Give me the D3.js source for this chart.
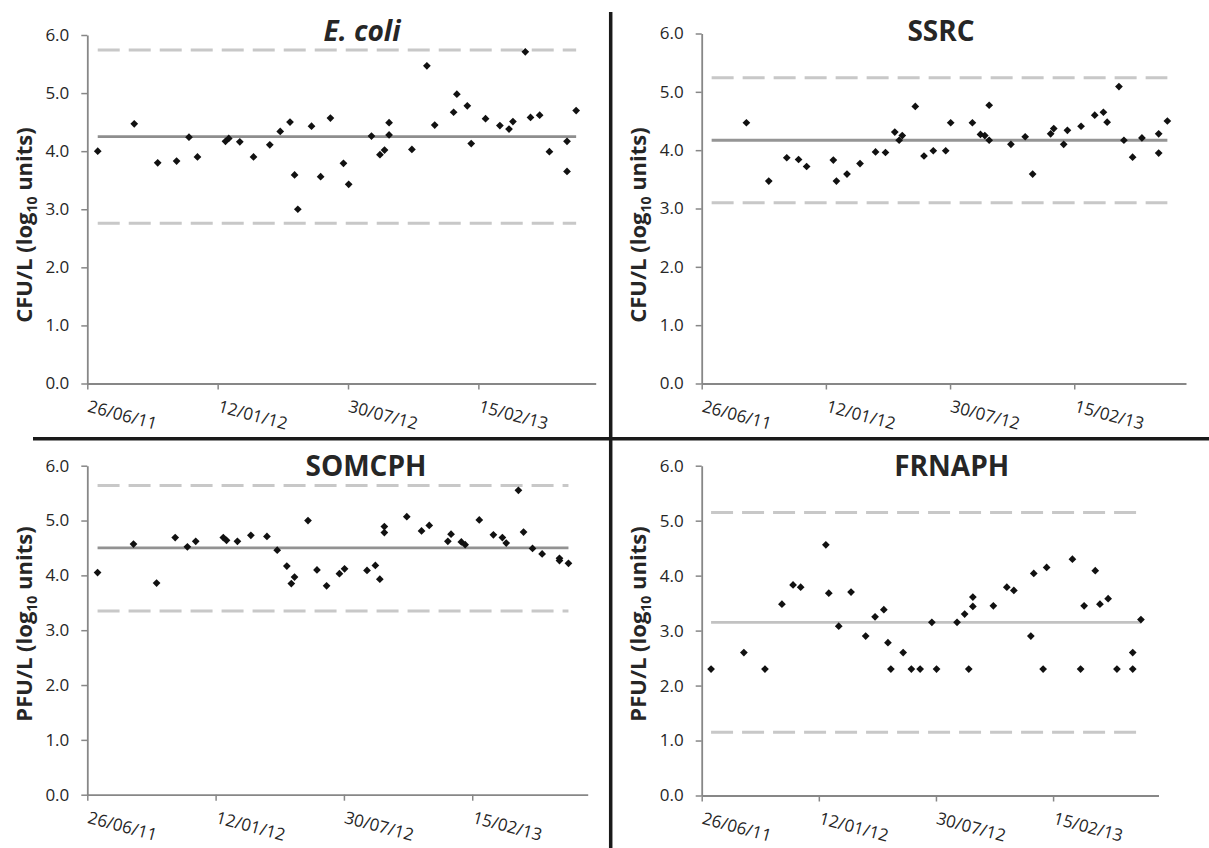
<!DOCTYPE html>
<html>
<head>
<meta charset="utf-8">
<script src="https://cdn.jsdelivr.net/npm/d3@7"></script>
<style>
	body { margin: 0; background: #fff; }
	svg text { font-family: "Open Sans", sans-serif; fill: #262626; }
</style>
</head>
<body>
<svg width="1209" height="848"></svg>
<script>
// sampling dates (shared by the four indicators, some days have two samples)
var sampleDates = ["2011-07-12", "2011-09-06", "2011-10-12", "2011-11-10", "2011-11-29", "2011-12-12",
	"2012-01-24", "2012-01-29", "2012-02-15", "2012-03-07", "2012-04-01", "2012-04-17", "2012-05-02",
	"2012-05-09", "2012-05-14", "2012-06-04", "2012-06-18", "2012-07-03", "2012-07-23", "2012-07-31",
	"2012-09-04", "2012-09-17", "2012-09-24", "2012-10-01", "2012-10-01", "2012-11-05", "2012-11-28",
	"2012-12-10", "2013-01-08", "2013-01-13", "2013-01-29", "2013-02-04", "2013-02-26", "2013-03-20",
	"2013-04-03", "2013-04-09", "2013-04-28", "2013-05-06", "2013-05-20", "2013-06-04", "2013-07-01",
	"2013-07-01", "2013-07-15"];

var ecoli = [4.00, 4.47, 3.80, 3.83, 4.24, 3.90, 4.17, 4.22, 4.16, 3.90, 4.11, 4.34, 4.50, 3.59, 3.00,
	4.43, 3.56, 4.57, 3.79, 3.43, 4.26, 3.94, 4.02, 4.49, 4.28, 4.03, 5.47, 4.45, 4.67, 4.98, 4.78, 4.13,
	4.56, 4.44, 4.38, 4.51, 5.71, 4.58, 4.62, 3.99, 4.17, 3.65, 4.70];
var ssrc = [null, 4.47, 3.47, 3.87, 3.84, 3.72, 3.83, 3.47, 3.59, 3.77, 3.97, 3.96, 4.31, 4.17, 4.25,
	4.75, 3.90, 3.99, 3.99, 4.47, 4.47, 4.27, 4.25, 4.77, 4.17, 4.10, 4.23, 3.59, 4.28, 4.37, 4.10, 4.34,
	4.41, 4.60, 4.65, 4.48, 5.09, 4.17, 3.88, 4.21, 4.28, 3.95, 4.50];
var somcph = [4.05, 4.57, 3.86, 4.69, 4.52, 4.62, 4.69, 4.64, 4.62, 4.73, 4.71, 4.46, 4.17, 3.85, 3.97,
	5.00, 4.10, 3.81, 4.03, 4.12, 4.09, 4.18, 3.93, 4.89, 4.78, 5.07, 4.81, 4.91, 4.62, 4.75, 4.61, 4.56,
	5.01, 4.74, 4.69, 4.59, 5.55, 4.79, 4.49, 4.39, 4.31, 4.27, 4.22];
var frnaph = [2.30, 2.60, 2.30, 3.48, 3.83, 3.79, 4.56, 3.68, 3.08, 3.70, 2.90, 3.25, 3.38, 2.78, 2.30,
	2.60, 2.30, 2.30, 3.15, 2.30, 3.15, 3.30, 2.30, 3.61, 3.44, 3.45, 3.79, 3.73, 2.90, 4.04, 2.30, 4.15,
	null, 4.30, 2.30, 3.45, 4.09, 3.48, 3.58, 2.30, 2.60, 2.30, 3.20];

var titles = ["E. coli", "SSRC", "SOMCPH", "FRNAPH"];
var unitLabels = ["CFU/L", "CFU/L", "PFU/L", "PFU/L"];
var meanLines = [4.25, 4.17, 4.50, 3.15];
var upperLines = [5.74, 5.24, 5.64, 5.15];
var lowerLines = [2.76, 3.10, 3.35, 1.15];

var yTicks = [0, 1, 2, 3, 4, 5, 6];
var xTickLabels = ["26/06/11", "12/01/12", "30/07/12", "15/02/13"];
var xDomain = ["2011-06-26", "2013-08-14"];

var series = [ecoli, ssrc, somcph, frnaph];

// where each little chart sits on the page
var panels = [
	{ left: 87.3, right: 595.7, top: 35, bottom: 383.5, titleX: 362, titleY: 40.7, labelX: 24, labelY: 225, mean: "#8e8e8e" },
	{ left: 701.7, right: 1186, top: 33.5, bottom: 383.5, titleX: 941, titleY: 40.5, labelX: 638, labelY: 225, mean: "#959595" },
	{ left: 87.3, right: 587.7, top: 465.7, bottom: 794.7, titleX: 366, titleY: 475.7, labelX: 24, labelY: 624, mean: "#929292" },
	{ left: 701.7, right: 1158.5, top: 465.7, bottom: 795.5, titleX: 951.7, titleY: 475.7, labelX: 638, labelY: 624, mean: "#c2c2c2" }
];

var parseDay = d3.utcParse("%Y-%m-%d"),
	parseTick = d3.utcParse("%d/%m/%y");
var dates = sampleDates.map(parseDay);
var tickDates = xTickLabels.map(parseTick);

var svg = d3.select("svg");
var axisColor = "#878787";

panels.forEach(function(p, i) {
	var x = d3.scaleUtc().domain(xDomain.map(parseDay)).range([p.left, p.right]),
		y = d3.scaleLinear().domain([0, 6]).range([p.bottom, p.top]);

	var g = svg.append("g").attr("class", "panel");

	// y axis
	var ya = g.append("g")
		.attr("transform", "translate(" + p.left + ",0)")
		.call(d3.axisLeft(y).tickValues(yTicks).tickFormat(d3.format(".1f")).tickSize(6).tickSizeOuter(0).tickPadding(12));
	// x axis
	var xa = g.append("g")
		.attr("transform", "translate(0," + p.bottom + ")")
		.call(d3.axisBottom(x).tickValues(tickDates).tickFormat(d3.utcFormat("%d/%m/%y")).tickSize(6).tickSizeOuter(0));

	[ya, xa].forEach(function(a) {
		a.select(".domain").attr("stroke", axisColor).attr("stroke-width", 1.8);
		a.selectAll(".tick line").attr("stroke", axisColor).attr("stroke-width", 1.5);
		a.selectAll("text").style("font-size", "17px").attr("fill", "#2b2b2b");
	});
	xa.selectAll(".tick text")
		.attr("x", 0).attr("y", 0).attr("dy", 0)
		.attr("text-anchor", "start")
		.attr("transform", "translate(-1,28) rotate(15)");

	var first = dates[0], last = dates[dates.length - 1];

	// control limits
	[upperLines[i], lowerLines[i]].forEach(function(v) {
		g.append("line")
			.attr("x1", x(first)).attr("x2", x(last))
			.attr("y1", y(v)).attr("y2", y(v))
			.attr("stroke", "#c8c8c8")
			.attr("stroke-width", 3)
			.attr("stroke-dasharray", "22,9");
	});
	// mean
	g.append("line")
		.attr("x1", x(first)).attr("x2", x(last))
		.attr("y1", y(meanLines[i])).attr("y2", y(meanLines[i]))
		.attr("stroke", p.mean)
		.attr("stroke-width", 2.8);

	// samples
	var pts = dates.map(function(d, k) {
		return { date: d, value: series[i][k] };
	}).filter(function(d) {
		return d.value != null;
	});

	g.selectAll(".pt")
		.data(pts)
		.enter().append("path")
		.attr("class", "pt")
		.attr("d", d3.symbol(d3.symbolSquare, 30))
		.attr("fill", "#111")
		.attr("transform", function(d) {
			return "translate(" + x(d.date) + "," + y(d.value) + ") rotate(45)";
		});

	// title
	g.append("text")
		.attr("x", p.titleX).attr("y", p.titleY)
		.attr("text-anchor", "middle")
		.style("font-size", "28px")
		.style("font-weight", "bold")
		.style("font-style", i === 0 ? "italic" : "normal")
		.attr("fill", "#1a1a1a")
		.text(titles[i]);

	// y axis title with subscript
	var yt = g.append("text")
		.attr("transform", "translate(" + p.labelX + "," + p.labelY + ") rotate(-90)")
		.attr("text-anchor", "middle")
		.attr("dy", "0.35em")
		.style("font-size", "22px")
		.style("font-weight", "bold")
		.attr("fill", "#1a1a1a");
	yt.append("tspan").text(unitLabels[i] + " (log");
	yt.append("tspan").attr("dy", 5).style("font-size", "14px").text("10");
	yt.append("tspan").attr("dy", -5).text(" units)");
});

// frame lines between the four charts
svg.append("line")
	.attr("x1", 610.7).attr("x2", 610.7)
	.attr("y1", 12).attr("y2", 848)
	.attr("stroke", "#1a1a1a").attr("stroke-width", 3.5);
svg.append("line")
	.attr("x1", 33).attr("x2", 1209)
	.attr("y1", 438.8).attr("y2", 438.8)
	.attr("stroke", "#1a1a1a").attr("stroke-width", 3.5);
</script>
</body>
</html>
